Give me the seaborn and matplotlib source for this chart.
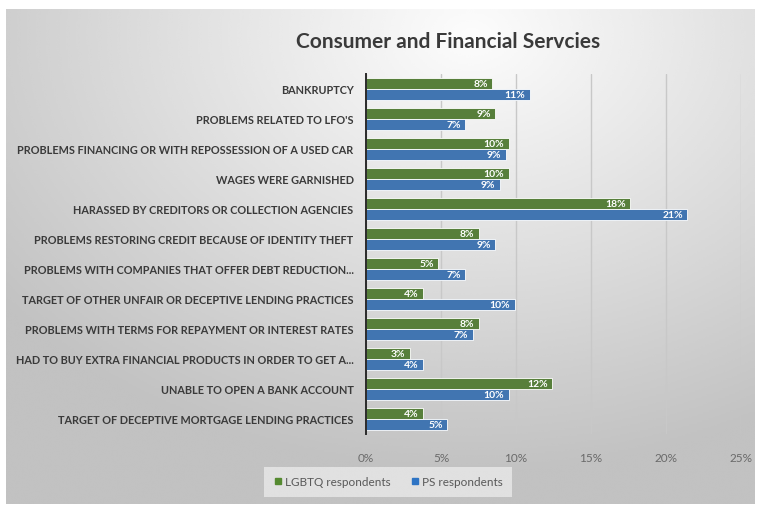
import numpy as np
import pandas as pd
import matplotlib
matplotlib.use("Agg")
import matplotlib.pyplot as plt
from matplotlib.lines import Line2D
import seaborn as sns

# Survey categories (top to bottom) and shares in percent
categories = [
    "BANKRUPTCY",
    "PROBLEMS RELATED TO LFO'S",
    "PROBLEMS FINANCING OR WITH REPOSSESSION OF A USED CAR",
    "WAGES WERE GARNISHED",
    "HARASSED BY CREDITORS OR COLLECTION AGENCIES",
    "PROBLEMS RESTORING CREDIT BECAUSE OF IDENTITY THEFT",
    "PROBLEMS WITH COMPANIES THAT OFFER DEBT REDUCTION...",
    "TARGET OF OTHER UNFAIR OR DECEPTIVE LENDING PRACTICES",
    "PROBLEMS WITH TERMS FOR REPAYMENT OR INTEREST RATES",
    "HAD TO BUY EXTRA FINANCIAL PRODUCTS IN ORDER TO GET A...",
    "UNABLE TO OPEN A BANK ACCOUNT",
    "TARGET OF DECEPTIVE MORTGAGE LENDING PRACTICES",
]
lgbtq = [8.4, 8.6, 9.5, 9.5, 17.6, 7.5, 4.8, 3.8, 7.5, 2.9, 12.4, 3.8]
ps = [10.9, 6.6, 9.3, 8.9, 21.4, 8.6, 6.6, 9.9, 7.1, 3.8, 9.5, 5.4]
series_names = ["LGBTQ respondents", "PS respondents"]
xticks = [0, 5, 10, 15, 20, 25]

GREEN = "#558a30"
BLUE = "#2e74c4"

df = pd.DataFrame({
    "category": categories * 2,
    "value": lgbtq + ps,
    "group": [series_names[0]] * len(categories) + [series_names[1]] * len(categories),
})

sns.set_theme(style="white")
plt.rcParams["font.family"] = ["Lato", "DejaVu Sans"]

W, H = 757, 506
fig = plt.figure(figsize=(W / 100, H / 100), dpi=100)
fig.patch.set_facecolor("white")

# Soft radial grey background panel
bg = fig.add_axes([6 / W, 1 - 505 / H, 749 / W, 495 / H])
ny, nx = 250, 380
yy, xx = np.mgrid[0:ny, 0:nx]
cx, cy = 0.62 * nx, 0.05 * ny
d = np.sqrt(((xx - cx) / nx) ** 2 + ((yy - cy) / ny * 0.9) ** 2)
shade = np.clip(0.99 - 0.29 * d, 0.76, 1.0)
bg.imshow(shade, cmap="gray", vmin=0, vmax=1, aspect="auto", interpolation="bicubic")
bg.set_axis_off()

ax = fig.add_axes([366 / W, 1 - 435 / H, 375 / W, 360 / H])
ax.patch.set_alpha(0)
sns.barplot(data=df, y="category", x="value", hue="group", orient="h",
            palette=[GREEN, BLUE], width=0.76, ax=ax, legend=False,
            edgecolor="white", linewidth=0.6, zorder=3)

ax.set_xlim(0, 25)
ax.set_xticks(xticks)
ax.set_xticklabels([f"{t}%" for t in xticks], color="#6a6a6a", fontsize=8.5)
ax.set_xlabel("")
ax.set_ylabel("")
ax.tick_params(axis="x", length=0, pad=13)
ax.tick_params(axis="y", length=0, pad=9)
for lbl in ax.get_yticklabels():
    lbl.set_fontsize(7.8)
    lbl.set_fontweight("bold")
    lbl.set_color("#3a3a3a")

ax.grid(axis="x", color="#c8c8c8", linewidth=1, zorder=0)
ax.set_axisbelow(True)
for side in ["top", "right", "bottom"]:
    ax.spines[side].set_visible(False)
ax.spines["left"].set_color("#2a2a2a")
ax.spines["left"].set_linewidth(1.4)
ax.spines["left"].set_zorder(5)

# Value labels inside the bar ends
for container, vals in zip(ax.containers, [lgbtq, ps]):
    for patch, v in zip(container.patches, vals):
        y = patch.get_y() + patch.get_height() / 2
        ax.annotate(f"{v:.0f}%", xy=(patch.get_width(), y), xytext=(-3, 0),
                    textcoords="offset points", ha="right", va="center",
                    color="white", fontsize=7.5, fontweight="bold", zorder=6)

fig.text(448 / W, 1 - 42 / H, "Consumer and Financial Servcies",
         ha="center", va="center", fontsize=15, fontweight="bold", color="#3a3a3a")

handles = [Line2D([], [], marker="s", linestyle="none", markersize=4.5,
                  markerfacecolor=c, markeredgecolor=c) for c in [GREEN, BLUE]]
leg = fig.legend(handles, series_names, loc="center", bbox_to_anchor=(388 / W, 1 - 483 / H),
                 ncol=2, frameon=True, fontsize=8.5, handletextpad=0.2, columnspacing=1.6,
                 handlelength=0.8, borderpad=0.8)
leg.get_frame().set_facecolor("#e9e9e9")
leg.get_frame().set_edgecolor("none")
leg.get_frame().set_boxstyle("square", pad=0)
for t in leg.get_texts():
    t.set_color("#595959")

fig.savefig("out.png", dpi=100)
